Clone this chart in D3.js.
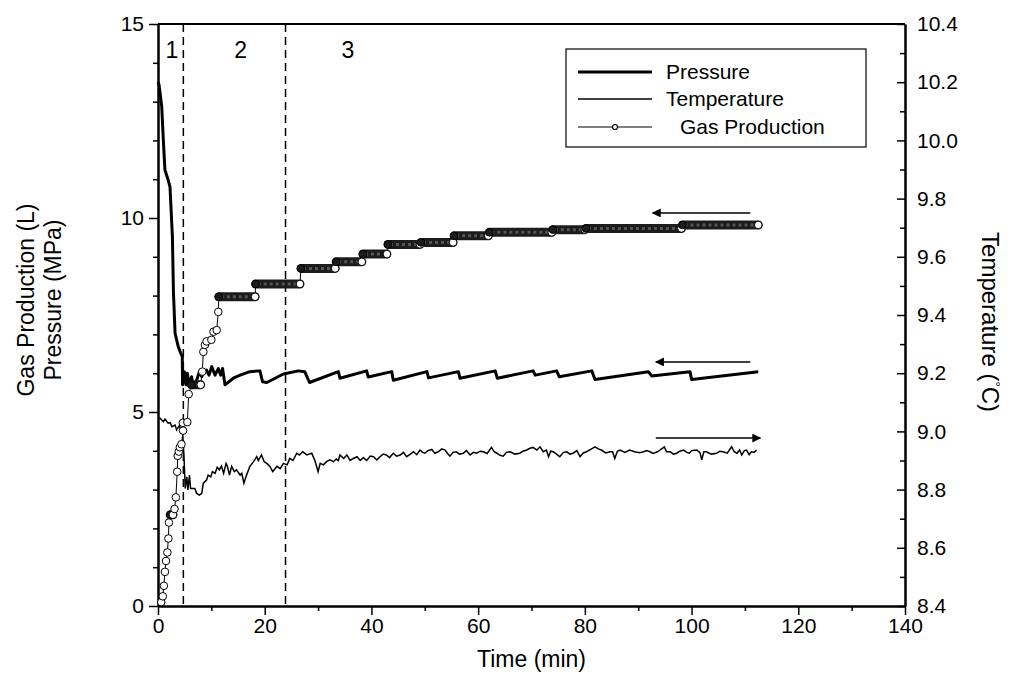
<!DOCTYPE html>
<html>
<head>
<meta charset="utf-8">
<script src="https://cdn.jsdelivr.net/npm/d3@7"></script>
<style>
  body { margin: 0; background: #fff; }
  svg text { font-family: "Liberation Sans", Arial, sans-serif; fill: #000; }
</style>
</head>
<body>
<svg id="chart" width="1019" height="677"></svg>
<script>
// ---- data ----
const xTicks = [0, 20, 40, 60, 80, 100, 120, 140];
const leftTicks = [0, 5, 10, 15];
const rightTicks = [8.4, 8.6, 8.8, 9.0, 9.2, 9.4, 9.6, 9.8, 10.0, 10.2, 10.4];

// pressure (MPa) vs time (min)
const pressTime = [0, 0.2, 0.7, 1.0, 1.3, 1.9, 2.25, 2.7, 2.9, 3.2, 3.8, 4.25, 4.55, 4.6, 4.94, 5.25, 5.5, 5.87, 6.3, 6.6, 7.25, 7.75, 8.2, 8.6, 9.1, 9.56, 10.06, 10.7, 11.3, 11.75, 12.1, 12.56, 14.1, 15.4, 17.2, 19.1, 19.6, 20.4, 23.5, 26.3, 27.5, 28.4, 33.8, 34.1, 39.1, 39.4, 43.8, 44.1, 50.4, 50.7, 56.3, 56.6, 63.2, 63.6, 70.3, 70.7, 74.7, 75.2, 81.3, 81.9, 91.9, 92.5, 99.7, 100.0, 112.5];
const pressValue = [13.5, 13.43, 12.87, 12.0, 11.24, 10.98, 10.8, 9.52, 8.06, 7.03, 6.68, 6.52, 6.43, 5.7, 6.04, 5.70, 6.00, 5.65, 5.91, 5.65, 5.82, 6.04, 5.91, 6.04, 6.08, 5.95, 6.17, 5.95, 6.12, 5.95, 6.12, 5.70, 5.87, 5.95, 6.04, 6.06, 5.78, 5.76, 5.98, 6.06, 6.04, 5.76, 6.04, 5.87, 6.06, 5.90, 6.04, 5.82, 6.04, 5.88, 6.04, 5.87, 6.06, 5.87, 6.06, 5.95, 6.06, 5.91, 6.06, 5.84, 6.04, 5.93, 6.04, 5.84, 6.04];

// temperature (C) vs time (min)
const tempTime = [0, 0.4, 1.0, 1.3, 1.9, 2.3, 2.6, 3.2, 3.5, 4.0, 4.4, 4.6, 4.9, 5.1, 5.4, 5.6, 5.9, 6.1, 6.9, 7.25, 7.75, 8.2, 8.5, 9.1, 9.4, 9.9, 10.2, 10.7, 11.1, 11.5, 11.9, 12.3, 12.75, 13.0, 13.4, 13.8, 14.3, 14.7, 15.4, 15.7, 16.1, 16.6, 17.2, 17.9, 18.5, 18.8, 19.4, 19.9, 20.4, 21.0, 21.5, 22.3, 22.9, 23.5, 24.2, 24.7, 25.3, 26.0, 26.5, 27.1, 27.9, 28.8, 29.4, 30.0, 30.4, 31.0, 31.6, 32.2, 32.9, 33.4, 33.8, 34.1, 34.8, 35.4, 36.0, 36.6, 37.3, 37.9, 38.5, 39.1, 39.8, 40.4, 41.0, 41.6, 42.2, 42.8, 43.4, 44.1, 44.7, 45.4, 46.0, 46.6, 47.3, 47.9, 48.5, 49.1, 49.6, 50.0, 50.6, 51.3, 51.9, 52.5, 53.2, 53.8, 54.2, 54.7, 55.3, 55.9, 56.5, 57.2, 57.8, 58.5, 59.1, 59.7, 60.4, 61.0, 61.7, 62.5, 63.0, 63.5, 64.1, 64.7, 65.3, 66.0, 66.9, 67.8, 68.4, 69.1, 69.7, 70.3, 71.0, 71.6, 72.2, 72.8, 73.2, 73.6, 74.1, 74.7, 75.3, 76.0, 76.6, 77.2, 77.8, 78.5, 79.1, 79.7, 80.3, 81.1, 81.9, 82.5, 83.1, 83.9, 84.7, 85.2, 85.6, 86.1, 86.6, 87.5, 88.4, 89.3, 90.3, 91.0, 91.6, 92.2, 92.8, 93.6, 94.4, 94.9, 95.3, 96.0, 96.6, 97.2, 97.8, 98.5, 99.1, 99.6, 100.0, 101.0, 101.6, 101.9, 102.3, 102.8, 103.7, 104.7, 105.3, 105.9, 106.7, 107.5, 108.0, 108.5, 109.0, 109.4, 109.9, 110.3, 110.8, 111.2, 111.7, 112.2, 112.5];
const tempValue = [9.045, 9.045, 9.033, 9.042, 9.028, 9.03, 9.016, 9.022, 9.005, 9.02, 8.999, 9.005, 8.902, 8.804, 8.844, 8.799, 8.85, 8.804, 8.804, 8.787, 8.781, 8.787, 8.822, 8.833, 8.85, 8.844, 8.862, 8.856, 8.877, 8.868, 8.881, 8.856, 8.89, 8.88, 8.85, 8.88, 8.862, 8.868, 8.85, 8.856, 8.822, 8.85, 8.879, 8.896, 8.913, 8.9, 8.919, 8.896, 8.89, 8.879, 8.862, 8.88, 8.872, 8.89, 8.885, 8.907, 8.9, 8.925, 8.919, 8.93, 8.919, 8.925, 8.9, 8.862, 8.89, 8.885, 8.896, 8.902, 8.896, 8.905, 8.9, 8.919, 8.907, 8.919, 8.9, 8.907, 8.913, 8.9, 8.91, 8.9, 8.915, 8.913, 8.902, 8.913, 8.922, 8.919, 8.91, 8.925, 8.915, 8.919, 8.928, 8.913, 8.922, 8.93, 8.92, 8.936, 8.928, 8.925, 8.934, 8.938, 8.925, 8.93, 8.94, 8.936, 8.926, 8.915, 8.928, 8.93, 8.922, 8.925, 8.934, 8.919, 8.928, 8.925, 8.932, 8.93, 8.924, 8.945, 8.93, 8.925, 8.918, 8.915, 8.928, 8.93, 8.922, 8.925, 8.932, 8.936, 8.942, 8.945, 8.936, 8.947, 8.93, 8.936, 8.913, 8.932, 8.93, 8.922, 8.913, 8.928, 8.93, 8.922, 8.925, 8.934, 8.913, 8.926, 8.93, 8.938, 8.947, 8.94, 8.936, 8.926, 8.93, 8.93, 8.907, 8.932, 8.936, 8.928, 8.936, 8.93, 8.927, 8.93, 8.934, 8.93, 8.924, 8.93, 8.94, 8.947, 8.93, 8.93, 8.922, 8.925, 8.932, 8.936, 8.928, 8.925, 8.934, 8.936, 8.926, 8.902, 8.93, 8.93, 8.922, 8.925, 8.932, 8.93, 8.925, 8.947, 8.93, 8.925, 8.936, 8.919, 8.934, 8.936, 8.92, 8.93, 8.928, 8.936];

// gas production (L) vs time (min)
const gasTime = [0.6, 0.9, 1.1, 1.3, 1.5, 1.75, 1.95, 2.05, 2.3, 2.8, 3.1, 3.35, 3.6, 3.7, 3.9, 4.1, 4.4, 4.7, 4.65, 5.5, 5.75, 6.3, 8.0, 8.3, 8.5, 8.8, 9.1, 10.0, 10.4, 11.0, 11.3, 11.4, 18.2, 18.3, 26.6, 26.8, 33.2, 33.4, 38.2, 38.4, 42.9, 43.1, 49.1, 49.3, 55.3, 55.5, 61.9, 62.1, 73.8, 74.0, 80.0, 80.2, 98.1, 98.3, 112.5];
const gasValue = [0.10, 0.25, 0.52, 0.88, 1.16, 1.38, 1.74, 2.15, 2.35, 2.35, 2.50, 2.80, 3.46, 3.87, 3.98, 4.09, 4.17, 4.52, 4.72, 4.74, 5.46, 5.70, 5.70, 6.04, 6.55, 6.73, 6.82, 6.86, 7.07, 7.11, 7.58, 7.97, 7.97, 8.30, 8.30, 8.70, 8.70, 8.87, 8.87, 9.07, 9.07, 9.32, 9.32, 9.37, 9.37, 9.54, 9.54, 9.63, 9.63, 9.70, 9.70, 9.73, 9.73, 9.82, 9.82];

// stage boundaries and labels
const stageBounds = [4.75, 23.9];
const stageLabels = ["1", "2", "3"];
const stageLabelTime = [2.6, 15.5, 35.6];

// direction arrows: from time, to time, level, axis used
const arrowFrom = [111.0, 111.0, 93.3];
const arrowTo = [92.7, 93.3, 112.9];
const arrowLevel = [10.13, 6.29, 8.977];
const arrowAxis = ["left", "left", "right"];

const legendNames = ["Pressure", "Temperature", "Gas Production"];

// ---- chart ----
const svg = d3.select("#chart");
const plotLeft = 158, plotRight = 905, plotTop = 24, plotBottom = 606;

const x = d3.scaleLinear().domain([0, 140]).range([plotLeft, plotRight]);
const yL = d3.scaleLinear().domain([0, 15]).range([plotBottom, plotTop]);
const yR = d3.scaleLinear().domain([8.4, 10.4]).range([plotBottom, plotTop]);

// minor ticks
const xMinor = d3.range(10, 140, 20);
const leftMinor = d3.range(0, 16, 1).filter(v => v % 5 !== 0);
const rightMinor = d3.range(0, 10).map(i => 8.5 + i * 0.2);

function styleAxis(g) {
  g.select(".domain").attr("stroke-width", 2);
  g.selectAll(".tick line").attr("stroke-width", 1.5);
  g.selectAll("text").style("font-size", "21px");
}

// bottom axis
svg.append("g").attr("transform", `translate(0,${plotBottom})`)
  .call(d3.axisBottom(x).tickValues(xMinor).tickSize(5).tickSizeOuter(0).tickFormat(""))
  .call(styleAxis);
svg.append("g").attr("transform", `translate(0,${plotBottom})`)
  .call(d3.axisBottom(x).tickValues(xTicks).tickSize(9).tickSizeOuter(0).tickPadding(3))
  .call(styleAxis);

// left axis
svg.append("g").attr("transform", `translate(${plotLeft},0)`)
  .call(d3.axisLeft(yL).tickValues(leftMinor).tickSize(5).tickSizeOuter(0).tickFormat(""))
  .call(styleAxis);
svg.append("g").attr("transform", `translate(${plotLeft},0)`)
  .call(d3.axisLeft(yL).tickValues(leftTicks).tickSize(9).tickSizeOuter(0).tickPadding(5))
  .call(styleAxis);

// right axis (ticks point inward)
svg.append("g").attr("transform", `translate(${plotRight},0)`)
  .call(d3.axisRight(yR).tickValues(rightMinor).tickSize(-5).tickSizeOuter(0).tickFormat(""))
  .call(styleAxis);
svg.append("g").attr("transform", `translate(${plotRight},0)`)
  .call(d3.axisRight(yR).tickValues(rightTicks).tickSize(-8).tickSizeOuter(0).tickPadding(12).tickFormat(d3.format(".1f")))
  .call(styleAxis);

// top frame line
svg.append("line").attr("x1", plotLeft).attr("x2", plotRight).attr("y1", plotTop).attr("y2", plotTop)
  .attr("stroke", "#000").attr("stroke-width", 2);

// axis titles
svg.append("text").attr("x", (plotLeft + plotRight) / 2).attr("y", 667)
  .attr("text-anchor", "middle").style("font-size", "23px").text("Time (min)");
svg.append("text").attr("transform", "translate(34,300) rotate(-90)")
  .attr("text-anchor", "middle").style("font-size", "23px").text("Gas Production (L)");
svg.append("text").attr("transform", "translate(61,300) rotate(-90)")
  .attr("text-anchor", "middle").style("font-size", "23px").text("Pressure (MPa)");
const rt = svg.append("text").attr("transform", "translate(982,322) rotate(90)")
  .attr("text-anchor", "middle").style("font-size", "24px");
rt.append("tspan").text("Temperature (");
rt.append("tspan").attr("dy", -9).style("font-size", "13px").text("°");
rt.append("tspan").attr("dy", 9).text("C)");

// stage dashed lines + labels
svg.selectAll(".stage").data(stageBounds).enter().append("line")
  .attr("x1", d => x(d)).attr("x2", d => x(d)).attr("y1", plotTop).attr("y2", plotBottom)
  .attr("stroke", "#000").attr("stroke-width", 1.5).attr("stroke-dasharray", "8,5");
svg.selectAll(".stageLabel").data(stageLabels).enter().append("text")
  .attr("x", (d, i) => x(stageLabelTime[i])).attr("y", 58)
  .attr("text-anchor", "middle").style("font-size", "23px").text(d => d);

const plot = svg.append("g");

// temperature
const tempData = tempTime.map((t, i) => [t, tempValue[i]]);
plot.append("path").datum(tempData)
  .attr("fill", "none").attr("stroke", "#000").attr("stroke-width", 1.5)
  .attr("d", d3.line().x(d => x(d[0])).y(d => yR(d[1])));

// pressure
const pressData = pressTime.map((t, i) => [t, pressValue[i]]);
plot.append("path").datum(pressData)
  .attr("fill", "none").attr("stroke", "#000").attr("stroke-width", 3).attr("stroke-linejoin", "round")
  .attr("d", d3.line().x(d => x(d[0])).y(d => yL(d[1])));

// gas production
const gasData = gasTime.map((t, i) => [t, gasValue[i]]);
plot.append("path").datum(gasData)
  .attr("fill", "none").attr("stroke", "#000").attr("stroke-width", 1)
  .attr("d", d3.line().x(d => x(d[0])).y(d => yL(d[1])));

// dense-marker plateaus drawn as a dark band
const plateaus = [];
for (let i = 0; i < gasData.length - 1; i++) {
  if (gasData[i][1] === gasData[i + 1][1]) plateaus.push([gasData[i], gasData[i + 1]]);
}
plot.selectAll(".band").data(plateaus).enter().append("line")
  .attr("x1", d => x(d[0][0])).attr("x2", d => x(d[1][0]))
  .attr("y1", d => yL(d[0][1])).attr("y2", d => yL(d[1][1]))
  .attr("stroke", "#1c1c1c").attr("stroke-width", 9).attr("stroke-linecap", "round");
plot.selectAll(".bandTex").data(plateaus).enter().append("line")
  .attr("x1", d => x(d[0][0]) + 2).attr("x2", d => x(d[1][0]) - 4)
  .attr("y1", d => yL(d[0][1])).attr("y2", d => yL(d[1][1]))
  .attr("stroke", "#555").attr("stroke-width", 3).attr("stroke-dasharray", "3,3");

plot.selectAll(".gas").data(gasData).enter().append("circle")
  .attr("cx", d => x(d[0])).attr("cy", d => yL(d[1])).attr("r", 3.8)
  .attr("fill", (d, i) => (i < gasData.length - 1 && gasData[i + 1][1] === d[1]) ? "#1c1c1c" : "#fff")
  .attr("stroke", "#000").attr("stroke-width", 1);

// arrows
svg.append("defs").append("marker").attr("id", "head")
  .attr("viewBox", "0 0 10 10").attr("refX", 9).attr("refY", 5)
  .attr("markerWidth", 13).attr("markerHeight", 9).attr("markerUnits", "userSpaceOnUse")
  .attr("orient", "auto")
  .append("path").attr("d", "M0,0L10,5L0,10Z").attr("fill", "#000");
arrowFrom.forEach((t0, i) => {
  const ys = arrowAxis[i] === "left" ? yL : yR;
  svg.append("line")
    .attr("x1", x(t0)).attr("x2", x(arrowTo[i]))
    .attr("y1", ys(arrowLevel[i])).attr("y2", ys(arrowLevel[i]))
    .attr("stroke", "#000").attr("stroke-width", 1.5).attr("marker-end", "url(#head)");
});

// legend
const lg = svg.append("g");
lg.append("rect").attr("x", 566).attr("y", 49).attr("width", 300).attr("height", 98)
  .attr("fill", "#fff").attr("stroke", "#000").attr("stroke-width", 1.2);
const rowY = [72, 99, 127];
const lineW = [3, 1.5, 1.2];
legendNames.forEach((name, i) => {
  lg.append("line").attr("x1", 578).attr("x2", 652).attr("y1", rowY[i]).attr("y2", rowY[i])
    .attr("stroke", "#000").attr("stroke-width", lineW[i]);
  lg.append("text").attr("x", i === 2 ? 680 : 666).attr("y", rowY[i] + 7)
    .style("font-size", "21px").text(name);
});
lg.append("circle").attr("cx", 615).attr("cy", rowY[2]).attr("r", 2.5)
  .attr("fill", "#fff").attr("stroke", "#000").attr("stroke-width", 1.2);
</script>
</body>
</html>
